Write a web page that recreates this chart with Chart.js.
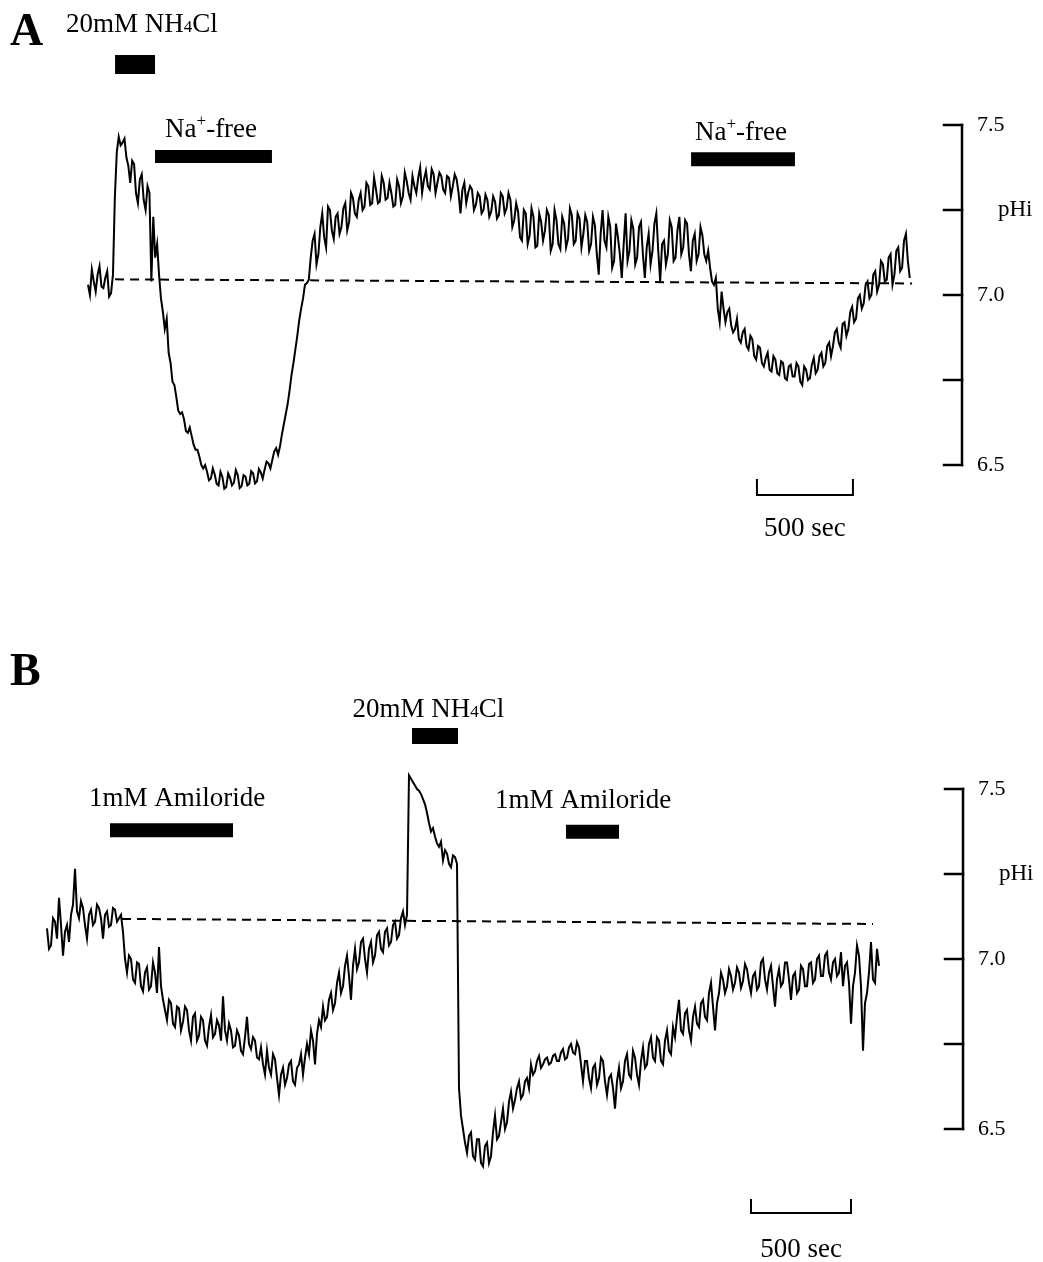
<!DOCTYPE html>
<html><head><meta charset="utf-8">
<script src="https://cdn.jsdelivr.net/npm/chart.js@4.4.1/dist/chart.umd.min.js"></script>
<style>
html,body{margin:0;padding:0;background:#fff;}
#wrap{position:relative;width:1043px;height:1262px;background:#fff;}
.panel{position:absolute;left:0;}
canvas{display:block;}
</style></head><body>
<div id="wrap">
<div class="panel" style="top:0"><canvas id="cA" width="1043" height="620"></canvas></div>
<div class="panel" style="top:620px"><canvas id="cB" width="1043" height="642"></canvas></div>
</div>
<script>
// ---------- DATA ----------
const sampleIntervalSec = 10;

// Panel A: intracellular pH trace (one reading every 10 s)
const pHiA = [
 7.030,7.000, 7.075,7.040, 7.010,7.060, 7.085,7.025, 7.020,7.050,
 7.070,6.995, 7.005,7.060, 7.290,7.420, 7.465,7.440, 7.448,7.460,
 7.405,7.380, 7.330,7.395, 7.385,7.300, 7.270,7.340, 7.355,7.280,
 7.250,7.320, 7.300,7.040, 7.230,7.110, 7.150,7.060, 6.990,6.950,
 6.900,6.930, 6.830,6.800, 6.745,6.735, 6.700,6.660, 6.650,6.655,
 6.635,6.600, 6.595,6.610, 6.585,6.560, 6.545,6.545, 6.525,6.500,
 6.490,6.500, 6.480,6.455, 6.460,6.490, 6.472,6.445, 6.440,6.480,
 6.465,6.430, 6.435,6.475, 6.462,6.440, 6.448,6.485, 6.470,6.432,
 6.438,6.470, 6.466,6.440, 6.445,6.482, 6.475,6.446, 6.452,6.488,
 6.478,6.460, 6.487,6.510, 6.505,6.490, 6.515,6.540, 6.550,6.530,
 6.555,6.590, 6.620,6.650, 6.680,6.720, 6.765,6.800, 6.840,6.880,
 6.925,6.960, 6.990,7.030, 7.035,7.045, 7.110,7.160, 7.180,7.090,
 7.120,7.200, 7.240,7.170, 7.140,7.260, 7.250,7.190, 7.165,7.230,
 7.240,7.180, 7.200,7.255, 7.270,7.190, 7.215,7.300, 7.285,7.240,
 7.230,7.280, 7.300,7.250, 7.260,7.330, 7.320,7.265, 7.270,7.345,
 7.310,7.270, 7.275,7.350, 7.330,7.280, 7.285,7.330, 7.300,7.260,
 7.265,7.340, 7.320,7.270, 7.290,7.360, 7.335,7.300, 7.280,7.350,
 7.320,7.300, 7.345,7.375, 7.300,7.340, 7.365,7.320, 7.310,7.370,
 7.355,7.300, 7.330,7.360, 7.350,7.310, 7.300,7.350, 7.345,7.290,
 7.320,7.355, 7.340,7.300, 7.240,7.310, 7.330,7.270, 7.300,7.320,
 7.310,7.250, 7.265,7.300, 7.290,7.240, 7.250,7.295, 7.280,7.230,
 7.245,7.290, 7.275,7.225, 7.235,7.300, 7.290,7.240, 7.255,7.300,
 7.280,7.200, 7.220,7.270, 7.245,7.170, 7.160,7.250, 7.240,7.150,
 7.175,7.255, 7.230,7.140, 7.145,7.240, 7.215,7.160, 7.190,7.250,
 7.235,7.130, 7.150,7.250, 7.220,7.150, 7.135,7.230, 7.210,7.140,
 7.165,7.255, 7.235,7.150, 7.160,7.240, 7.225,7.140, 7.180,7.235,
 7.215,7.130, 7.150,7.230, 7.205,7.120, 7.060,7.180, 7.250,7.160,
 7.140,7.230, 7.200,7.080, 7.100,7.210, 7.170,7.120, 7.050,7.150,
 7.240,7.100, 7.130,7.220, 7.195,7.090, 7.110,7.200, 7.215,7.120,
 7.050,7.140, 7.180,7.090, 7.130,7.210, 7.240,7.130, 7.040,7.150,
 7.160,7.090, 7.120,7.220, 7.200,7.100, 7.110,7.190, 7.230,7.120,
 7.140,7.220, 7.210,7.120, 7.070,7.160, 7.180,7.100, 7.120,7.200,
 7.175,7.120, 7.100,7.130, 7.080,7.040, 7.030,7.050, 6.960,6.920,
 7.010,6.960, 6.920,6.950, 6.960,6.910, 6.890,6.900, 6.930,6.870,
 6.860,6.890, 6.900,6.850, 6.840,6.880, 6.870,6.820, 6.810,6.850,
 6.845,6.800, 6.790,6.815, 6.830,6.780, 6.775,6.820, 6.810,6.770,
 6.765,6.805, 6.800,6.755, 6.750,6.790, 6.795,6.760, 6.760,6.800,
 6.790,6.745, 6.735,6.790, 6.780,6.750, 6.755,6.795, 6.815,6.770,
 6.780,6.820, 6.830,6.790, 6.800,6.850, 6.860,6.820, 6.850,6.890,
 6.900,6.860, 6.845,6.915, 6.920,6.880, 6.900,6.950, 6.965,6.920,
 6.930,6.990, 7.000,6.960, 6.975,7.030, 7.040,6.990, 7.000,7.060,
 7.070,7.010, 7.030,7.100, 7.090,7.040, 7.045,7.110, 7.120,7.030,
 7.060,7.130, 7.140,7.070, 7.080,7.160, 7.180,7.100, 7.050
];

// Panel B: intracellular pH trace (one reading every 10 s)
const pHiB = [
 7.090,7.030, 7.040,7.120, 7.110,7.060, 7.180,7.100, 7.010,7.080,
 7.100,7.050, 7.130,7.160, 7.265,7.140, 7.120,7.170, 7.150,7.100,
 7.060,7.130, 7.145,7.100, 7.110,7.160, 7.150,7.120, 7.060,7.130,
 7.140,7.095, 7.100,7.150, 7.145,7.110, 7.120,7.130, 7.080,7.000,
 6.960,7.010, 7.000,6.940, 6.930,6.990, 6.985,6.920, 6.905,6.960,
 6.975,6.910, 6.920,6.990, 6.960,6.900, 7.035,6.920, 6.880,6.850,
 6.820,6.880, 6.870,6.810, 6.800,6.860, 6.855,6.790, 6.815,6.860,
 6.850,6.790, 6.760,6.830, 6.840,6.760, 6.775,6.830, 6.820,6.760,
 6.745,6.800, 6.835,6.770, 6.780,6.820, 6.805,6.760, 6.890,6.790,
 6.760,6.810, 6.790,6.740, 6.745,6.790, 6.775,6.730, 6.720,6.770,
 6.830,6.750, 6.735,6.770, 6.760,6.710, 6.705,6.740, 6.690,6.660,
 6.730,6.680, 6.660,6.720, 6.705,6.650, 6.600,6.660, 6.680,6.630,
 6.650,6.690, 6.700,6.640, 6.630,6.680, 6.690,6.720, 6.660,6.710,
 6.750,6.720, 6.790,6.760, 6.690,6.780, 6.820,6.800, 6.860,6.820,
 6.830,6.880, 6.900,6.850, 6.870,6.930, 6.960,6.900, 6.920,6.980,
 7.010,6.950, 6.880,6.980, 7.030,6.970, 6.990,7.050, 7.060,7.000,
 6.960,7.030, 7.050,6.990, 7.010,7.070, 7.080,7.030, 7.020,7.080,
 7.090,7.040, 7.050,7.100, 7.110,7.060, 7.070,7.120, 7.140,7.100,
 7.130,7.540, 7.530,7.520, 7.510,7.500, 7.495,7.485, 7.470,7.455,
 7.430,7.400, 7.375,7.385, 7.360,7.340, 7.330,7.345, 7.290,7.320,
 7.310,7.280, 7.270,7.305, 7.300,7.280, 6.620,6.540, 6.500,6.460,
 6.430,6.480, 6.490,6.420, 6.410,6.470, 6.470,6.400, 6.390,6.450,
 6.460,6.400, 6.420,6.490, 6.540,6.470, 6.480,6.520, 6.560,6.500,
 6.520,6.580, 6.610,6.560, 6.585,6.620, 6.640,6.590, 6.600,6.640,
 6.650,6.620, 6.690,6.660, 6.670,6.700, 6.715,6.680, 6.690,6.705,
 6.710,6.690, 6.695,6.715, 6.720,6.700, 6.700,6.725, 6.735,6.705,
 6.710,6.740, 6.750,6.725, 6.720,6.755, 6.740,6.690, 6.640,6.700,
 6.700,6.650, 6.620,6.680, 6.690,6.630, 6.650,6.710, 6.700,6.640,
 6.600,6.650, 6.660,6.620, 6.560,6.640, 6.680,6.620, 6.640,6.700,
 6.720,6.660, 6.650,6.730, 6.710,6.660, 6.630,6.700, 6.740,6.680,
 6.690,6.750, 6.770,6.710, 6.700,6.770, 6.760,6.700, 6.690,6.760,
 6.790,6.730, 6.720,6.800, 6.770,6.830, 6.880,6.790, 6.780,6.840,
 6.850,6.790, 6.760,6.830, 6.860,6.810, 6.800,6.870, 6.880,6.830,
 6.820,6.900, 6.930,6.860, 6.790,6.870, 6.900,6.960, 6.940,6.900,
 6.920,6.970, 6.950,6.910, 6.930,6.975, 6.960,6.915, 6.935,6.985,
 6.970,6.930, 6.900,6.950, 6.960,6.910, 6.920,6.990, 7.000,6.940,
 6.910,6.960, 6.980,6.920, 6.860,6.940, 6.970,6.920, 6.930,6.990,
 6.990,6.940, 6.880,6.950, 6.960,6.900, 6.910,6.980, 6.970,6.920,
 6.920,6.985, 6.990,6.930, 6.940,7.000, 7.010,6.950, 6.950,7.010,
 7.020,6.960, 6.940,6.990, 7.000,6.950, 6.960,7.020, 6.920,6.980,
 6.990,6.930, 6.810,6.920, 6.960,7.040, 7.010,6.920, 6.730,6.870,
 6.900,6.960, 7.050,6.940, 6.930,7.030, 6.980
];

// Resting-pH reference (dashed) lines: [start, end] time (s) and pH
const baselineTimeA = [141, 4292];
const baselinePHA   = [7.046, 7.034];
const baselineTimeB = [375, 4130];
const baselinePHB   = [7.118, 7.103];

// Treatment periods (s)
const treatmentsA = ['20mM NH_4Cl', 'Na^+-free', 'Na^+-free'];
const treatStartA = [141, 349, 3141];
const treatEndA   = [349, 958, 3682];
const treatmentsB = ['1mM Amiloride', '20mM NH_4Cl', '1mM Amiloride'];
const treatStartB = [315, 1825, 2595];
const treatEndB   = [930, 2055, 2860];

// Axis
const yTickValues = [6.5, 6.75, 7.0, 7.25, 7.5];
const yTickLabels = ['6.5', '', '7.0', '', '7.5'];
const yAxisTitle = 'pHi';
const scaleBarSeconds = 500;
const scaleBarLabel = '500 sec';

// ---------- LAYOUT (positions in data units: seconds, pH) ----------
const layoutA = {
  canvas: 'cA', letter: 'A', xMax: 4552, axisWidth: 81,
  pad: {left: 88, top: 125, bottom: 155},
  letterAt: {t: -406, v: 7.735},
  barLevel: [7.678, 7.407, 7.399], barThick: [19, 13, 14],
  labelAt: [{t: 281, v: 7.774}, {t: 641, v: 7.465}, {t: 3401, v: 7.456}],
  scaleBar: {t: 3484, v: 6.412, tickTop: 6.459, labelV: 6.291}
};
const layoutB = {
  canvas: 'cB', letter: 'B', xMax: 4580, axisWidth: 80,
  pad: {left: 47, top: 169, bottom: 133},
  letterAt: {t: -185, v: 7.806},
  barLevel: [7.379, 7.656, 7.374], barThick: [14, 16, 14],
  labelAt: [{t: 650, v: 7.45}, {t: 1907, v: 7.712}, {t: 2680, v: 7.444}],
  scaleBar: {t: 3520, v: 6.253, tickTop: 6.294, labelV: 6.124}
};

const FAMILY = '"Liberation Serif", "Times New Roman", serif';

function drawRich(ctx, str, cx, y, size) {
  const parts = [];
  let buf = '';
  for (let i = 0; i < str.length; i++) {
    const c = str[i];
    if ((c === '_' || c === '^') && i + 1 < str.length) {
      if (buf) { parts.push({t: buf, k: 'n'}); buf = ''; }
      parts.push({t: str[i + 1], k: c === '_' ? 'sub' : 'sup'});
      i++;
    } else buf += c;
  }
  if (buf) parts.push({t: buf, k: 'n'});
  const fontFor = k => (k === 'n' ? size : Math.round(size * 0.62)) + 'px ' + FAMILY;
  let w = 0;
  parts.forEach(p => { ctx.font = fontFor(p.k); p.w = ctx.measureText(p.t).width; w += p.w; });
  let x = cx - w / 2;
  ctx.textAlign = 'left';
  ctx.textBaseline = 'alphabetic';
  parts.forEach(p => {
    ctx.font = fontFor(p.k);
    const dy = p.k === 'sup' ? -size * 0.40 : (p.k === 'sub' ? size * 0.02 : 0);
    ctx.fillText(p.t, x, y + dy);
    x += p.w;
  });
}

function annotPlugin(L, names) {
  return {
    id: 'annot' + L.letter,
    afterDatasetsDraw(chart) {
      const ctx = chart.ctx, xs = chart.scales.x, ys = chart.scales.y;
      const X = t => xs.getPixelForValue(t), Y = v => ys.getPixelForValue(v);
      const ax = chart.chartArea.right;
      ctx.save();
      ctx.strokeStyle = '#000'; ctx.fillStyle = '#000';
      ctx.lineWidth = 2.5; ctx.lineCap = 'square';
      ctx.beginPath();
      ctx.moveTo(ax, Y(yTickValues[yTickValues.length - 1]));
      ctx.lineTo(ax, Y(yTickValues[0]));
      ctx.stroke();
      yTickValues.forEach(v => {
        ctx.beginPath(); ctx.moveTo(ax - 18, Y(v)); ctx.lineTo(ax, Y(v)); ctx.stroke();
      });
      ctx.font = '23px ' + FAMILY; ctx.textBaseline = 'middle'; ctx.textAlign = 'left';
      ctx.fillText(yAxisTitle, ax + 36, Y(7.25));
      ctx.textBaseline = 'alphabetic';
      ctx.font = 'bold 46px ' + FAMILY;
      ctx.fillText(L.letter, X(L.letterAt.t), Y(L.letterAt.v));
      names.forEach((n, k) => drawRich(ctx, n, X(L.labelAt[k].t), Y(L.labelAt[k].v), 27));
      const sb = L.scaleBar;
      ctx.lineWidth = 2; ctx.lineCap = 'butt';
      ctx.beginPath();
      ctx.moveTo(X(sb.t), Y(sb.tickTop));
      ctx.lineTo(X(sb.t), Y(sb.v));
      ctx.lineTo(X(sb.t + scaleBarSeconds), Y(sb.v));
      ctx.lineTo(X(sb.t + scaleBarSeconds), Y(sb.tickTop));
      ctx.stroke();
      ctx.font = '27px ' + FAMILY; ctx.textAlign = 'center'; ctx.textBaseline = 'alphabetic';
      ctx.fillText(scaleBarLabel, X(sb.t + scaleBarSeconds / 2), Y(sb.labelV));
      ctx.restore();
    }
  };
}

function makePanel(L, trace, baseT, baseV, names, starts, ends) {
  const datasets = [
    {data: trace.map((v, i) => ({x: i * sampleIntervalSec, y: v})),
     borderColor: '#000', borderWidth: 2, pointRadius: 0, tension: 0, clip: false, fill: false},
    {data: baseT.map((t, i) => ({x: t, y: baseV[i]})),
     borderColor: '#000', borderWidth: 2, borderDash: [9, 6], pointRadius: 0, clip: false, fill: false}
  ];
  names.forEach((n, k) => datasets.push({
    data: [{x: starts[k], y: L.barLevel[k]}, {x: ends[k], y: L.barLevel[k]}],
    borderColor: '#000', borderWidth: L.barThick[k], borderCapStyle: 'butt',
    pointRadius: 0, clip: false, fill: false
  }));
  new Chart(document.getElementById(L.canvas), {
    type: 'line',
    data: {datasets},
    options: {
      responsive: false, animation: false, devicePixelRatio: 1,
      layout: {padding: {left: L.pad.left, top: L.pad.top, bottom: L.pad.bottom, right: 0}},
      plugins: {legend: {display: false}, tooltip: {enabled: false}},
      scales: {
        x: {type: 'linear', display: false, min: 0, max: L.xMax},
        y: {
          position: 'right', min: 6.5, max: 7.5,
          afterFit: s => { s.width = L.axisWidth; },
          afterBuildTicks: s => { s.ticks = yTickValues.map(v => ({value: v})); },
          grid: {display: false, drawTicks: false},
          border: {display: false},
          ticks: {
            padding: 15, color: '#000', font: {family: FAMILY, size: 22},
            callback: v => { const k = yTickValues.indexOf(v); return k >= 0 ? yTickLabels[k] : ''; }
          }
        }
      }
    },
    plugins: [annotPlugin(L, names)]
  });
}

makePanel(layoutA, pHiA, baselineTimeA, baselinePHA, treatmentsA, treatStartA, treatEndA);
makePanel(layoutB, pHiB, baselineTimeB, baselinePHB, treatmentsB, treatStartB, treatEndB);
</script>
</body></html>
